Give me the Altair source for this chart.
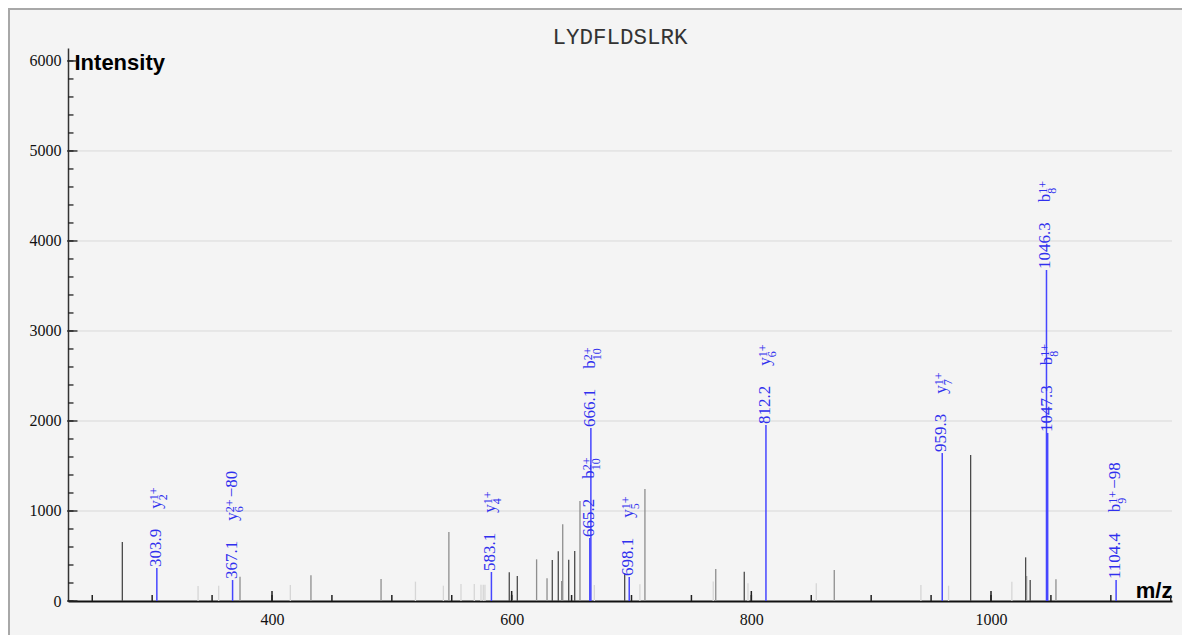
import altair as alt
import pandas as pd

TITLE = "LYDFLDSLRK"

# ---- unannotated peaks (m/z, intensity, shade) ----
peak_mz = [275.1, 338.3, 355.5, 373.3, 415.3, 432.5, 491.0, 519.7, 543.0, 547.6,
           557.7, 568.8, 574.4, 576.3, 577.7, 598.0, 600.6, 604.7, 620.8, 629.5,
           633.9, 638.9, 641.7, 642.6, 647.6, 652.6, 657.0, 669.0, 694.3, 707.0,
           711.2, 768.2, 770.3, 794.1, 797.2, 854.2, 869.2, 941.5, 964.6, 983.0,
           1017.4, 1028.9, 1029.7, 1032.7, 1054.2]
peak_int = [656, 167, 170, 270, 178, 285, 244, 215, 170, 767,
            189, 189, 180, 180, 180, 319, 70, 278, 463, 252,
            456, 552, 222, 852, 459, 556, 1111, 178, 307, 185,
            1244, 218, 356, 326, 196, 196, 344, 178, 170, 1622,
            215, 485, 278, 233, 241]
peak_shade = ["dark", "light", "light", "medium", "light", "medium", "medium", "light", "light", "medium",
              "light", "light", "light", "light", "light", "dark", "light", "dark", "medium", "medium",
              "dark", "dark", "medium", "medium", "dark", "dark", "medium", "light", "dark", "light",
              "medium", "light", "medium", "dark", "light", "light", "medium", "light", "light", "dark",
              "light", "dark", "medium", "dark", "medium"]

# ---- annotated (matched) peaks ----
ion_mz = [303.9, 367.1, 583.1, 665.2, 666.1, 698.1, 812.2, 959.3, 1046.3, 1047.3, 1104.4]
ion_int = [367, 233, 322, 700, 1922, 267, 1956, 1644, 3678, 1867, 233]
ion_text = ["303.9", "367.1", "583.1", "665.2", "666.1", "698.1", "812.2", "959.3", "1046.3", "1047.3", "1104.4"]
ion_type = ["y", "y", "y", "b", "b", "y", "y", "y", "b", "b", "b"]
ion_index = ["2", "6", "4", "10", "10", "5", "6", "7", "8", "8", "9"]
ion_charge = ["1+", "2+", "1+", "2+", "2+", "1+", "1+", "1+", "1+", "1+", "1+"]
ion_suffix = ["", "\u221280", "", "", "", "", "", "", "", "", "\u221298"]

# ---- axes ----
x_labels = [400, 600, 800, 1000]
x_minor = list(range(250, 1151, 50))
y_labels = [0, 1000, 2000, 3000, 4000, 5000, 6000]
y_minor = list(range(0, 6001, 200))
grid_values = [1000, 2000, 3000, 4000, 5000]

W, H = 1104, 553
X_DOMAIN = [229.76, 1151.04]
Y_DOMAIN = [0, 6144]
UPP = (Y_DOMAIN[1] - Y_DOMAIN[0]) / H  # data units per pixel

FS = 17
SFS = 12
GAP = 20
LETTER_W = 8.5
SUP_W = 15

BLUE_LINE = "#4646ff"
BLUE_TEXT = "#3030ee"
SERIF = "Liberation Serif"

peaks = pd.DataFrame({"mz": peak_mz, "intensity": peak_int, "shade": peak_shade})
ions = pd.DataFrame({"mz": ion_mz, "intensity": ion_int, "label": ion_text,
                     "type": ion_type, "index": ion_index, "charge": ion_charge,
                     "suffix": ion_suffix})

xs = alt.Scale(domain=X_DOMAIN, nice=False, zero=False)
ys = alt.Scale(domain=Y_DOMAIN, nice=False, zero=False)

x_axis = alt.Axis(values=x_labels, format="d", ticks=False, tickSize=0, grid=False,
                  labelFont=SERIF, labelFontSize=16, labelPadding=10, labelColor="#111",
                  domainColor="#111", domainWidth=2,
                  title="m/z", titleFont="Liberation Sans", titleFontSize=22,
                  titleFontWeight="bold", titleColor="#000", titleAngle=0,
                  titleAlign="right", titleBaseline="alphabetic", titleX=W, titleY=-4)
y_axis = alt.Axis(values=y_labels, format="d", ticks=False, tickSize=0, grid=False,
                  labelFont=SERIF, labelFontSize=16, labelPadding=7, labelColor="#111",
                  domainColor="#333", domainWidth=1.5,
                  title="Intensity", titleFont="Liberation Sans", titleFontSize=22,
                  titleFontWeight="bold", titleColor="#000", titleAngle=0,
                  titleAlign="left", titleBaseline="alphabetic", titleX=6, titleY=21)


def X(field):
    return alt.X(field, scale=xs, axis=x_axis)


def Y(field):
    return alt.Y(field, scale=ys, axis=y_axis)


grid = alt.Chart(pd.DataFrame({"v": grid_values})).mark_rule(
    color="#d9d9d9", strokeWidth=1).encode(y=Y("v:Q"))

gray = alt.Chart(peaks).mark_rule(strokeWidth=1.3).encode(
    x=X("mz:Q"),
    y=Y("intensity:Q"),
    y2=alt.datum(0),
    color=alt.Color("shade:N", legend=None,
                    scale=alt.Scale(domain=["dark", "medium", "light"],
                                    range=["#4a4a4a", "#8e8e8e", "#d6d6d6"])),
)

ion_base = alt.Chart(ions)
blue = ion_base.mark_rule(color=BLUE_LINE, strokeWidth=1.5).encode(
    x=X("mz:Q"), y=Y("intensity:Q"), y2=alt.datum(0))

value_text = ion_base.mark_text(angle=270, align="left", baseline="middle", dx=1, dy=-1,
                                font=SERIF, fontSize=FS, color=BLUE_TEXT).encode(
    x=X("mz:Q"), y=Y("intensity:Q"), text="label:N")

ion_pos = ion_base.transform_calculate(
    vw=f"{FS} * (0.5 * length(datum.label) - 0.25)",
).transform_calculate(
    ion_y=f"datum.intensity + (1 + datum.vw + {GAP}) * {UPP}",
).transform_calculate(
    sup_y=f"datum.ion_y + {LETTER_W} * {UPP}",
).transform_calculate(
    suf_y=f"datum.sup_y + {SUP_W} * {UPP}",
)

letter = ion_pos.mark_text(angle=270, align="left", baseline="middle", dy=-1,
                           font=SERIF, fontSize=FS, color=BLUE_TEXT).encode(
    x=X("mz:Q"), y=Y("ion_y:Q"), text="type:N")
sup = ion_pos.mark_text(angle=270, align="left", baseline="alphabetic", dy=1,
                        font=SERIF, fontSize=SFS, color=BLUE_TEXT).encode(
    x=X("mz:Q"), y=Y("sup_y:Q"), text="charge:N")
sub = ion_pos.mark_text(angle=270, align="left", baseline="alphabetic", dy=10,
                        font=SERIF, fontSize=SFS, color=BLUE_TEXT).encode(
    x=X("mz:Q"), y=Y("sup_y:Q"), text="index:N")
suffix = ion_pos.mark_text(angle=270, align="left", baseline="middle", dy=-1,
                           font=SERIF, fontSize=FS, color=BLUE_TEXT).encode(
    x=X("mz:Q"), y=Y("suf_y:Q"), text="suffix:N")

tick_color = "#222"
y_minor_ticks = alt.Chart(pd.DataFrame({"v": y_minor})).mark_rule(
    color=tick_color, strokeWidth=1.3).encode(
    y=Y("v:Q"), x=alt.value(0), x2=alt.value(5.5))
y_major_ticks = alt.Chart(pd.DataFrame({"v": y_labels})).mark_rule(
    color=tick_color, strokeWidth=1.3).encode(
    y=Y("v:Q"), x=alt.value(-1), x2=alt.value(9.5))
x_minor_ticks = alt.Chart(pd.DataFrame({"v": x_minor})).mark_rule(
    color=tick_color, strokeWidth=1.5).encode(
    x=X("v:Q"), y=alt.value(H), y2=alt.value(H - 6))
x_major_ticks = alt.Chart(pd.DataFrame({"v": x_labels})).mark_rule(
    color=tick_color, strokeWidth=1.5).encode(
    x=X("v:Q"), y=alt.value(H), y2=alt.value(H - 10))

title_df = pd.DataFrame({"t": [TITLE]})
title = alt.Chart(title_df).mark_text(font="Liberation Mono", fontSize=22.5, align="center",
                                      baseline="alphabetic", color="#333").encode(
    x=alt.value(W / 2), y=alt.value(-4), text="t:N")
border = alt.Chart(title_df).mark_rect(fill="transparent", stroke="#a8a8a8", strokeWidth=2).encode(
    x=alt.value(-59), y=alt.value(-39), x2=alt.value(W + 400), y2=alt.value(H + 400))

chart = alt.layer(
    grid, gray, blue, value_text, letter, sup, sub, suffix,
    y_minor_ticks, y_major_ticks, x_minor_ticks, x_major_ticks, title, border,
).properties(
    width=W, height=H,
    autosize=alt.AutoSizeParams(type="none"),
    padding={"left": 60, "top": 40, "right": 10, "bottom": 34},
).configure(background="#f4f4f4").configure_view(strokeWidth=0)

chart.save("out.html", embed_options={"renderer": "svg", "actions": False})
